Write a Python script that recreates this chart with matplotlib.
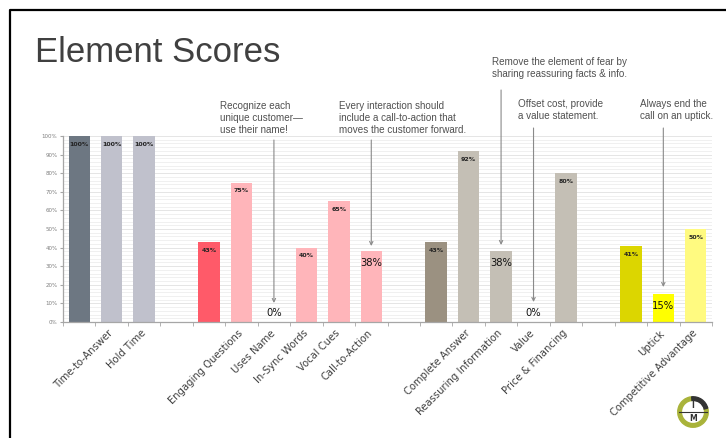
import matplotlib
matplotlib.use("Agg")
import matplotlib.pyplot as plt
from matplotlib.patches import Wedge
from matplotlib.lines import Line2D
from matplotlib.ticker import MultipleLocator, FixedLocator

# ---------------- data ----------------
categories = ["", "Time-to-Answer", "Hold Time", "", "",
              "Engaging Questions", "Uses Name", "In-Sync Words", "Vocal Cues", "Call-to-Action",
              "", "", "Complete Answer", "Reassuring Information", "Value", "Price & Financing",
              "", "", "Uptick", "Competitive Advantage"]
scores = [100, 100, 100, None, 43, 75, 0, 40, 65, 38,
          None, 43, 92, 38, 0, 80, None, 41, 15, 50]
bar_colors = ["#6d7782", "#c0c1cc", "#c0c1cc", "none", "#ff5a69",
              "#ffb5ba", "#ffb5ba", "#ffb5ba", "#ffb5ba", "#ffb5ba",
              "none", "#9b9181", "#c4bfb5", "#c4bfb5", "#c4bfb5", "#c4bfb5",
              "none", "#dcd600", "#ffff00", "#fffa80"]
highlighted = [6, 9, 13, 14, 18]
y_tick_labels = ["0%", "10%", "20%", "30%", "40%", "50%", "60%", "70%", "80%", "90%", "100%"]

note_texts = ["Recognize each\nunique customer\u2014\nuse their name!",
              "Every interaction should\ninclude a call-to-action that\nmoves the customer forward.",
              "Remove the element of fear by\nsharing reassuring facts & info.",
              "Offset cost, provide\na value statement.",
              "Always end the\ncall on an uptick."]
note_targets = [6, 9, 13, 14, 18]

# ---------------- layout (pixels) ----------------
W, H = 726, 438
fig = plt.figure(figsize=(W / 100, H / 100), dpi=100)
fig.patch.set_facecolor("white")
ax_l, ax_r, ax_t, ax_b = 63, 712, 136, 322
ax = fig.add_axes([ax_l / W, (H - ax_b) / H, (ax_r - ax_l) / W, (ax_b - ax_t) / H])

n = len(categories)
ax.set_xlim(-0.5, n - 0.5)
ax.set_ylim(0, 1)

for i, v in enumerate(scores):
    if v is None:
        continue
    ax.bar(i, v / 100, width=0.66, color=bar_colors[i], zorder=2)
    if i in highlighted:
        y = 0.05 if v == 0 else v / 100 - 0.065
        ax.text(i, y, f"{v}%", ha="center", va="center", fontsize=7.2,
                color="#111111", zorder=3)
    else:
        ax.text(i, v / 100 - 0.045, f"{v}%", ha="center", va="center",
                fontsize=4.5, fontweight="bold", color="#222222", zorder=3)

# axes styling
for s in ["top", "right"]:
    ax.spines[s].set_visible(False)
for s in ["left", "bottom"]:
    ax.spines[s].set_color("#a6a6a6")
    ax.spines[s].set_linewidth(0.9)

ax.yaxis.set_major_locator(FixedLocator([k / 10 for k in range(11)]))
ax.set_yticklabels(y_tick_labels)
ax.yaxis.set_minor_locator(MultipleLocator(0.02))
ax.tick_params(axis="y", which="major", labelsize=4, labelcolor="#7f7f7f",
               length=2.5, color="#a6a6a6", pad=1.5)
ax.tick_params(axis="y", which="minor", length=0)
ax.grid(axis="y", which="minor", color="#eeeeee", lw=0.6, zorder=0)
ax.grid(axis="y", which="major", color="#e0e0e0", lw=0.6, zorder=0)
ax.set_axisbelow(True)

ax.set_xticks(range(n))
ax.set_xticklabels(categories, rotation=45, ha="right", va="center",
                   rotation_mode="anchor", fontsize=7.2, color="#404040",
                   family=["DejaVu Sans"])
ax.xaxis.set_minor_locator(FixedLocator([k - 0.5 for k in range(n + 1)]))
ax.tick_params(axis="x", which="major", length=0, pad=7)
ax.tick_params(axis="x", which="minor", length=3, color="#a6a6a6")

# annotations
def px2data(px, py):
    return (px - ax_l) / ((ax_r - ax_l) / n) - 0.5, (ax_b - py) / (ax_b - ax_t)

note_text_pos = [(220, 101), (339, 101), (492, 57), (518, 99), (640, 99)]
note_arrow_px = [(140, 303), (140, 246), (90, 245), (128, 302), (128, 287)]
for txt, tgt, (tx, ty), (y0, y1) in zip(note_texts, note_targets, note_text_pos, note_arrow_px):
    dx, dy = px2data(tx, ty)
    ax.text(dx, dy, txt, ha="left", va="top", fontsize=7.1, color="#505050",
            family=["Liberation Sans", "DejaVu Sans"], linespacing=1.28,
            clip_on=False)
    _, ya = px2data(0, y0)
    _, yb = px2data(0, y1)
    ax.annotate("", xy=(tgt, yb), xytext=(tgt, ya),
                arrowprops=dict(arrowstyle="->", color="#8a8a8a", lw=0.8,
                                shrinkA=0, shrinkB=0, mutation_scale=6),
                annotation_clip=False)

# title
fig.text(35 / W, 1 - 62 / H, "Element Scores", fontsize=25, color="#404040",
         family=["Liberation Sans", "DejaVu Sans"],
         va="baseline", ha="left")

# slide border
fig.add_artist(Line2D([10 / W, 10 / W, 1.0], [0.0, 1 - 10 / H, 1 - 10 / H],
                      color="black", lw=1.6))

# logo
cx, cy, r = 693, 412, 16
lax = fig.add_axes([(cx - r) / W, (H - cy - r) / H, 2 * r / W, 2 * r / H])
lax.set_xlim(-1.05, 1.05)
lax.set_ylim(-1.05, 1.05)
lax.set_aspect("equal")
lax.axis("off")
lax.add_patch(Wedge((0, 0), 1.0, 95, 375, width=0.24, color="#a9b33a"))
lax.add_patch(Wedge((0, 0), 1.0, 15, 95, width=0.24, color="#333333"))
lax.plot([-0.95, 0.95], [0, 0], color="#333333", lw=0.8)
lax.text(0, 0.4, "I", ha="center", va="center", fontsize=5.5, fontweight="bold", color="#333333")
lax.text(0, -0.42, "M", ha="center", va="center", fontsize=5.5, fontweight="bold", color="#333333")

fig.savefig("out.png", dpi=100, facecolor="white")
